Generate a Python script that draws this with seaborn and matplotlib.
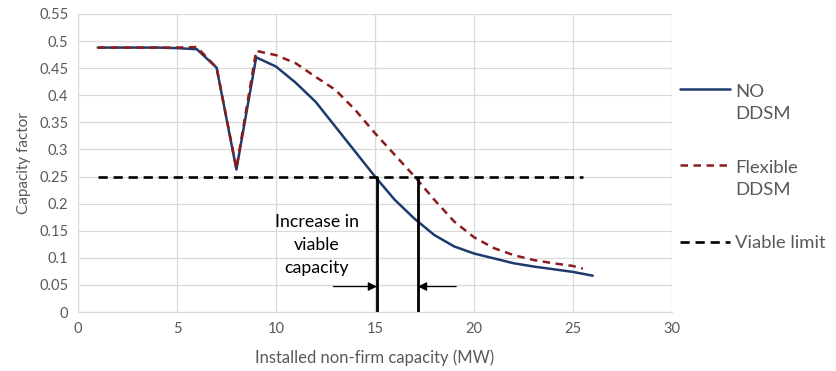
import numpy as np
import pandas as pd
import seaborn as sns
import matplotlib.pyplot as plt

# data
capacity = list(range(1, 27))
no_ddsm = [0.488, 0.488, 0.488, 0.488, 0.487, 0.485, 0.451, 0.263, 0.470, 0.453,
           0.423, 0.388, 0.342, 0.296, 0.250, 0.207, 0.172, 0.142, 0.121, 0.108,
           0.099, 0.090, 0.084, 0.079, 0.074, 0.067]
flexible_x = list(range(1, 26)) + [25.5]
flexible = [0.488, 0.488, 0.488, 0.488, 0.488, 0.489, 0.451, 0.265, 0.482, 0.474,
            0.459, 0.434, 0.410, 0.373, 0.330, 0.290, 0.250, 0.207, 0.167, 0.138,
            0.118, 0.105, 0.096, 0.090, 0.085, 0.080]
viable_x = [1, 25.5]
viable = [0.25, 0.25]
cross_no_ddsm = 15.1
cross_flexible = 17.17
x_ticks = [0, 5, 10, 15, 20, 25, 30]
y_ticks = [0, 0.05, 0.1, 0.15, 0.2, 0.25, 0.3, 0.35, 0.4, 0.45, 0.5, 0.55]

df_no = pd.DataFrame({'x': capacity, 'y': no_ddsm})
df_flex = pd.DataFrame({'x': flexible_x, 'y': flexible})
df_limit = pd.DataFrame({'x': viable_x, 'y': viable})

sns.set_style('white')
plt.rcParams['font.family'] = ['Lato', 'DejaVu Sans']

grey = '#595959'
fig = plt.figure(figsize=(8.36, 3.71), dpi=100)
ax = fig.add_axes([0.0933, 0.159, 0.7105, 0.8033])

sns.lineplot(data=df_no, x='x', y='y', ax=ax, color='#1f3b6e', lw=1.8, label='NO\nDDSM')
sns.lineplot(data=df_flex, x='x', y='y', ax=ax, color='#8b1c1c', lw=1.8,
             linestyle=(0, (3, 2.2)), label='Flexible\nDDSM')
sns.lineplot(data=df_limit, x='x', y='y', ax=ax, color='black', lw=1.9,
             linestyle=(0, (3.5, 2.2)), label='Viable limit')

# vertical markers at the viable limit crossings
ax.vlines([cross_no_ddsm, cross_flexible], 0, viable[0], color='black', lw=2)
arrow = dict(arrowstyle='-|>', color='black', lw=0.9, mutation_scale=13, shrinkA=0, shrinkB=0)
ax.annotate('', xy=(cross_no_ddsm, 0.047), xytext=(12.9, 0.047), arrowprops=arrow)
ax.annotate('', xy=(cross_flexible, 0.047), xytext=(19.1, 0.047), arrowprops=arrow)
ax.text(12.05, 0.124, 'Increase in\nviable\ncapacity', ha='center', va='center',
        fontsize=12.8, color='black', linespacing=1.55)

ax.set_xlim(0, 30)
ax.set_ylim(0, 0.55)
ax.set_xticks(x_ticks)
ax.set_yticks(y_ticks)
ax.set_yticklabels([f'{v:g}' for v in y_ticks])
ax.grid(True, color='#d9d9d9', lw=0.9)
ax.set_axisbelow(True)
for side in ['top', 'right']:
    ax.spines[side].set_visible(False)
for side in ['left', 'bottom']:
    ax.spines[side].set_color('#d9d9d9')
ax.tick_params(length=0, labelsize=10.5, labelcolor=grey, pad=7)

ax.set_xlabel('Installed non-firm capacity (MW)', fontsize=12, color=grey, labelpad=10)
ax.set_ylabel('Capacity factor', fontsize=11, color=grey, labelpad=6)

leg = ax.legend(loc='center left', bbox_to_anchor=(0.813, 0.548), bbox_transform=fig.transFigure,
                frameon=False, fontsize=13.3, handlelength=2.7, handletextpad=0.3,
                labelspacing=2.05, borderpad=0, borderaxespad=0)
for t in leg.get_texts():
    t.set_color(grey)
    t.set_multialignment('left')
    t.set_linespacing(1.45)
# put the handles of the two-line entries level with their first line
for line in leg.get_lines()[:2]:
    line.set_ydata(np.asarray(line.get_ydata()) + 10)

fig.savefig('out.png', dpi=100)
